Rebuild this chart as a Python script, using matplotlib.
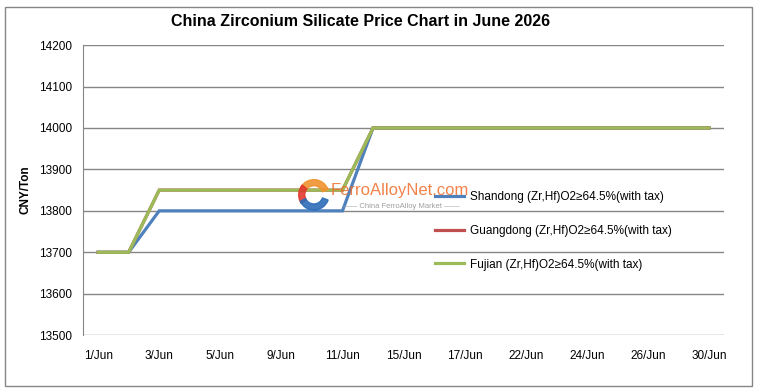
import matplotlib
matplotlib.use("Agg")
import matplotlib.pyplot as plt
from matplotlib.patches import Rectangle, Wedge

plt.rcParams['font.family'] = ['Liberation Sans', 'DejaVu Sans']

# --- data ---
dates = ['1/Jun', '2/Jun', '3/Jun', '4/Jun', '5/Jun', '8/Jun', '9/Jun', '10/Jun',
         '11/Jun', '12/Jun', '15/Jun', '16/Jun', '17/Jun', '18/Jun', '22/Jun',
         '23/Jun', '24/Jun', '25/Jun', '26/Jun', '29/Jun', '30/Jun']
shandong = [13700, 13700, 13800, 13800, 13800, 13800, 13800, 13800, 13800,
            14000, 14000, 14000, 14000, 14000, 14000, 14000, 14000, 14000,
            14000, 14000, 14000]
guangdong = [13700, 13700, 13850, 13850, 13850, 13850, 13850, 13850, 13850,
             14000, 14000, 14000, 14000, 14000, 14000, 14000, 14000, 14000,
             14000, 14000, 14000]
fujian = [13700, 13700, 13850, 13850, 13850, 13850, 13850, 13850, 13850,
          14000, 14000, 14000, 14000, 14000, 14000, 14000, 14000, 14000,
          14000, 14000, 14000]
series_names = ['Shandong (Zr,Hf)O2≥64.5%(with tax)',
                'Guangdong (Zr,Hf)O2≥64.5%(with tax)',
                'Fujian (Zr,Hf)O2≥64.5%(with tax)']
colors = ['#4F81BD', '#C0504D', '#9BBB59']
yticks = [13500, 13600, 13700, 13800, 13900, 14000, 14100, 14200]

fig = plt.figure(figsize=(7.6, 3.92), dpi=100)
ax = fig.add_axes([0.109, 0.145, 0.844, 0.74])

x = range(len(dates))
for vals, name, c in zip([shandong, guangdong, fujian], series_names, colors):
    ax.plot(x, vals, color=c, linewidth=2.3, label=name, solid_joinstyle='miter')

ax.set_xlim(-0.5, len(dates) - 0.5)
ax.set_ylim(13500, 14200)
ax.set_yticks(yticks)
ax.set_xticks(list(x)[::2])
ax.set_xticklabels(dates[::2])
ax.tick_params(axis='both', length=0, labelsize=8.5, colors='black')
ax.tick_params(axis='x', pad=11)
ax.tick_params(axis='y', pad=8)
ax.yaxis.grid(True, color='#868686', linewidth=1)
ax.set_axisbelow(True)
for s in ['top', 'right', 'bottom']:
    ax.spines[s].set_visible(False)
ax.spines['left'].set_color('#868686')

ax.set_ylabel('CNY/Ton', fontsize=8.5, fontweight='bold', labelpad=5)
fig.text(0.475, 0.945, 'China Zirconium Silicate Price Chart in June 2026',
         ha='center', va='center', fontsize=11.5, fontweight='bold')

# watermark (logo + text)
lax = fig.add_axes([0.392, 0.462, 0.042, 0.082])
lax.set_xlim(-1, 1)
lax.set_ylim(-1, 1)
lax.set_aspect('equal')
lax.axis('off')
lax.add_patch(Wedge((0, 0), 0.95, 20, 150, width=0.38, color='#F0922E', alpha=0.9))
lax.add_patch(Wedge((0, 0), 0.95, 140, 215, width=0.38, color='#E03A2E', alpha=0.9))
lax.add_patch(Wedge((0, 0), 0.95, 205, 340, width=0.38, color='#2E6DB8', alpha=0.9))

fig.text(0.435, 0.515, 'FerroAlloyNet.com', color='#EE6C2A', fontsize=12, alpha=0.85,
         ha='left', va='center')
fig.text(0.450, 0.472, '—— China FerroAlloy Market ——', color='#A0A0A0', fontsize=5.5,
         ha='left', va='center')

leg = ax.legend(loc='upper left', bbox_to_anchor=(0.565, 0.528), bbox_transform=fig.transFigure,
                frameon=False, fontsize=8.5, handlelength=2.4, labelspacing=1.85,
                handletextpad=0.5, borderpad=0)

fig.add_artist(Rectangle((0.006, 0.015), 0.984, 0.968, transform=fig.transFigure,
                         fill=False, edgecolor='#868686', linewidth=1))

fig.savefig('out.png', dpi=100)
